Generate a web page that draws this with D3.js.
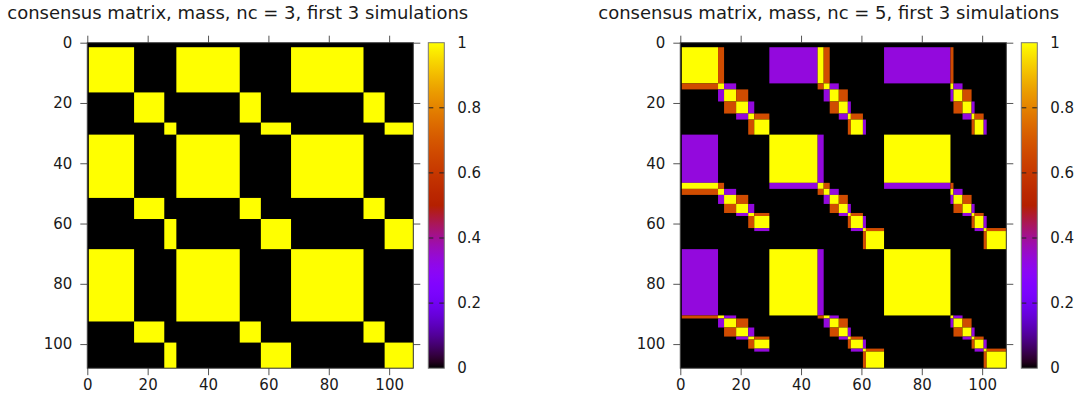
<!DOCTYPE html>
<html>
<head>
<meta charset="utf-8">
<script src="https://cdn.jsdelivr.net/npm/d3@7"></script>
<style>
  body { margin: 0; background: #fff; }
  text { font-family: "DejaVu Sans", sans-serif; fill: #1a1a1a; }
</style>
</head>
<body>
<svg id="chart" width="1090" height="404"></svg>
<script>
// ---- data -------------------------------------------------------------
// nc = 3: consecutive runs of items (sorted by simulation, then cluster)
const nc3Sizes    = [15, 10, 4, 21, 7, 10, 24, 7, 10];
const nc3Clusters = [0, 1, 2, 0, 1, 2, 0, 1, 2];

// nc = 5: cluster label of each pattern in the three clustering runs
const nc5Patterns = [
  [0, 0, 0],  // 0
  [1, 0, 0],  // 1
  [1, 1, 1],  // 2
  [2, 1, 1],  // 3
  [2, 2, 2],  // 4
  [3, 2, 2],  // 5
  [0, 4, 4],  // 6
  [3, 3, 3],  // 7
  [4, 3, 3]   // 8
];
// nc = 5: consecutive runs of items and the pattern each run follows
const nc5Sizes    = [12, 2, 4, 4, 2, 5,  16, 2, 2, 3, 3, 1, 4, 1, 6,  22, 1, 3, 3, 1, 3, 1, 7];
const nc5Runs     = [ 0, 1, 2, 3, 4, 5,   6, 0, 1, 2, 3, 4, 5, 7, 8,   6, 1, 2, 3, 4, 5, 7, 8];

const axisTicks   = [0, 20, 40, 60, 80, 100];
const cbTicks     = [0, 0.2, 0.4, 0.6, 0.8, 1];
const titles      = [
  "consensus matrix, mass, nc = 3, first 3 simulations",
  "consensus matrix, mass, nc = 5, first 3 simulations"
];

// ---- palette (black -> purple -> red -> orange -> yellow) -------------
function palette(v) {
  const r = Math.sqrt(v);
  const g = v * v * v;
  const b = Math.max(0, Math.sin(2 * Math.PI * v));
  return d3.rgb(r * 255, g * 255, b * 255).toString();
}

// ---- build group blocks ----------------------------------------------
function groupsFrom(sizes) {
  let start = 0;
  return sizes.map(n => { const g = { start, end: start + n }; start += n; return g; });
}

const svg = d3.select("#chart");
const N = 108;
const plotW = 326, plotH = 325.5;
const panels = [
  { left: 87.3,  title: titles[0], titleX: 7.3,
    sizes: nc3Sizes,
    value: (i, j) => nc3Clusters[i] === nc3Clusters[j] ? 1 : 0 },
  { left: 680.3, title: titles[1], titleX: 598.3,
    sizes: nc5Sizes,
    value: (i, j) => {
      const a = nc5Patterns[nc5Runs[i]], b = nc5Patterns[nc5Runs[j]];
      return d3.sum(a, (d, k) => d === b[k] ? 1 : 0) / a.length;
    } }
];
const plotTop = 42.7;

// gradient for colour boxes
const defs = svg.append("defs");
const grad = defs.append("linearGradient").attr("id", "cbgrad")
  .attr("x1", 0).attr("y1", 1).attr("x2", 0).attr("y2", 0);
d3.range(0, 1.0001, 0.02).forEach(t => {
  grad.append("stop").attr("offset", t).attr("stop-color", palette(t));
});

panels.forEach((p, pi) => {
  const x = d3.scaleLinear().domain([0, N]).range([0, plotW]);
  const y = d3.scaleLinear().domain([0, N]).range([0, plotH]);
  const g = svg.append("g").attr("transform", `translate(${p.left},${plotTop})`);

  defs.append("clipPath").attr("id", "clip" + pi)
    .append("rect").attr("width", plotW).attr("height", plotH);

  const body = g.append("g").attr("clip-path", `url(#clip${pi})`);
  body.append("rect").attr("width", plotW).attr("height", plotH).attr("fill", "#000");

  const groups = groupsFrom(p.sizes);
  const cells = [];
  groups.forEach((gi, i) => groups.forEach((gj, j) => {
    const v = p.value(i, j);
    if (v > 0) cells.push({ r: gi, c: gj, v });
  }));
  // item k occupies columns [k+0.5, k+1.5] and rows [k+1.5, k+2.5]
  body.selectAll("rect.cell").data(cells).join("rect")
    .attr("class", "cell")
    .attr("x", d => x(d.c.start + 0.5))
    .attr("width", d => x(d.c.end) - x(d.c.start))
    .attr("y", d => y(d.r.start + 1.5))
    .attr("height", d => y(d.r.end) - y(d.r.start))
    .attr("fill", d => palette(d.v));

  // axes: outward ticks on all four sides, labels left and bottom
  const tickLen = 7;
  const styleAxis = sel => {
    sel.select(".domain").remove();
    sel.selectAll(".tick line").attr("stroke", "#555");
    sel.selectAll(".tick text").style("font-size", "15px").attr("fill", "#1a1a1a");
  };
  g.append("g").attr("transform", `translate(0,${plotH})`)
    .call(d3.axisBottom(x).tickValues(axisTicks).tickSize(tickLen).tickPadding(4))
    .call(styleAxis);
  g.append("g")
    .call(d3.axisLeft(y).tickValues(axisTicks).tickSize(tickLen).tickPadding(8))
    .call(styleAxis);
  g.append("g")
    .call(d3.axisTop(x).tickValues(axisTicks).tickSize(tickLen).tickFormat(""))
    .call(styleAxis);
  g.append("g").attr("transform", `translate(${plotW},0)`)
    .call(d3.axisRight(y).tickValues(axisTicks).tickSize(tickLen).tickFormat(""))
    .call(styleAxis);
  g.append("rect").attr("width", plotW).attr("height", plotH)
    .attr("fill", "none").attr("stroke", "#333").attr("stroke-width", 1);

  // colour box
  const cbX = plotW + 15, cbW = 16;
  const cy = d3.scaleLinear().domain([0, 1]).range([plotH, 0]);
  const cb = g.append("g").attr("transform", `translate(${cbX},0)`);
  cb.append("rect").attr("width", cbW).attr("height", plotH).attr("fill", "url(#cbgrad)");
  cbTicks.filter(t => t > 0 && t < 1).forEach(t => {
    cb.append("line").attr("x1", 0).attr("x2", 5).attr("y1", cy(t)).attr("y2", cy(t))
      .attr("stroke", "#222");
    cb.append("line").attr("x1", cbW - 5).attr("x2", cbW).attr("y1", cy(t)).attr("y2", cy(t))
      .attr("stroke", "#222");
  });
  cb.append("rect").attr("width", cbW).attr("height", plotH)
    .attr("fill", "none").attr("stroke", "#777");
  cb.selectAll("text.cbl").data(cbTicks).join("text")
    .attr("class", "cbl")
    .attr("x", cbW + 13).attr("y", d => cy(d)).attr("dy", "0.35em")
    .style("font-size", "15px")
    .text(d => d3.format("~g")(d));

  // title
  svg.append("text").attr("x", p.titleX).attr("y", 18.5)
    .style("font-size", "18px")
    .text(p.title);
});
</script>
</body>
</html>
